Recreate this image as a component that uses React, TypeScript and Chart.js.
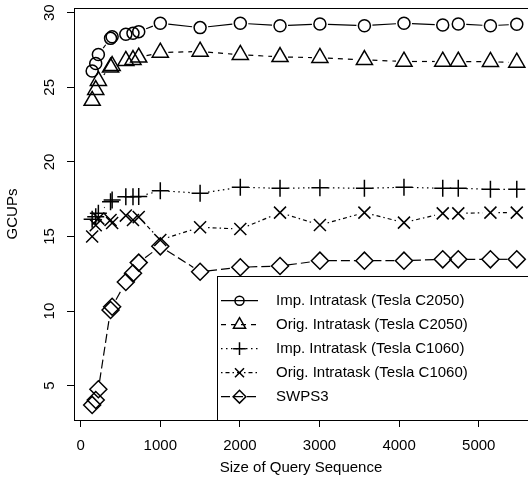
import React, { useEffect, useRef } from 'react';
import { Chart, registerables } from 'chart.js';
import { drawPoint } from 'chart.js/helpers';

Chart.register(...registerables);

// ---- data ----
const queryLengths = [144, 189, 222, 375, 395, 567, 657, 729, 1000, 1500, 2005, 2504, 3005, 3564, 4061, 4548, 4743, 5147, 5478];
const impC2050 = [26.09, 26.6, 27.2, 28.28, 28.39, 28.55, 28.62, 28.73, 29.29, 29.0, 29.29, 29.13, 29.24, 29.13, 29.29, 29.18, 29.24, 29.13, 29.22];
const origC2050 = [24.1, 24.83, 25.44, 26.33, 26.44, 26.78, 26.84, 27.0, 27.33, 27.4, 27.18, 27.04, 26.98, 26.84, 26.73, 26.73, 26.73, 26.71, 26.66];
const impC1060 = [16.15, 16.33, 16.56, 17.33, 17.45, 17.67, 17.67, 17.68, 18.07, 17.9, 18.3, 18.23, 18.27, 18.23, 18.3, 18.23, 18.23, 18.16, 18.16];
const origC1060 = [15.0, 15.75, 16.2, 16.1, 15.9, 16.4, 16.1, 16.3, 14.77, 15.62, 15.5, 16.6, 15.77, 16.6, 15.93, 16.55, 16.55, 16.6, 16.6];
const swps3 = [3.71, 4.04, 4.76, 10.07, 10.29, 11.95, 12.53, 13.25, 14.34, 12.64, 12.94, 13.02, 13.38, 13.38, 13.38, 13.47, 13.47, 13.47, 13.47];

const seriesLabels = [
  'Imp. Intratask (Tesla C2050)',
  'Orig. Intratask (Tesla C2050)',
  'Imp. Intratask (Tesla C1060)',
  'Orig. Intratask (Tesla C1060)',
  'SWPS3',
];
const xTickValues = [0, 1000, 2000, 3000, 4000, 5000];
const yTickValues = [5, 10, 15, 20, 25, 30];
const xTitle = 'Size of Query Sequence';
const yTitle = 'GCUPs';

const FONT = "'Liberation Sans', Arial, Helvetica, sans-serif";
const styles = [
  { pointStyle: 'circle', radius: 6, dash: [] as number[] },
  { pointStyle: 'triangle', radius: 9.3, dash: [5, 5] },
  { pointStyle: 'cross', radius: 8.5, dash: [1.5, 3.5] },
  { pointStyle: 'crossRot', radius: 8.5, dash: [1.5, 3, 4, 3] },
  { pointStyle: 'rectRot', radius: 8.5, dash: [9, 4] },
];
const GAP = 8;
const LINE_W = 1.2;
const PT_W = 1.5;

const rLinesPlugin = {
  id: 'rLines',
  beforeDatasetsDraw(chart: any) {
    const ctx = chart.ctx;
    chart.data.datasets.forEach((ds: any, i: number) => {
      const pts = chart.getDatasetMeta(i).data;
      ctx.save();
      ctx.strokeStyle = '#000';
      ctx.lineWidth = LINE_W;
      ctx.setLineDash(styles[i].dash);
      for (let k = 0; k < pts.length - 1; k++) {
        const a = pts[k];
        const b = pts[k + 1];
        const dx = b.x - a.x;
        const dy = b.y - a.y;
        const d = Math.hypot(dx, dy);
        if (d <= 2 * GAP) continue;
        const ux = dx / d;
        const uy = dy / d;
        ctx.beginPath();
        ctx.moveTo(a.x + ux * GAP, a.y + uy * GAP);
        ctx.lineTo(b.x - ux * GAP, b.y - uy * GAP);
        ctx.stroke();
      }
      ctx.restore();
    });
  },
  afterDraw(chart: any) {
    const ctx = chart.ctx;
    const area = chart.chartArea;
    const yScale = chart.scales.y;
    ctx.save();
    // top border of the box
    ctx.strokeStyle = '#000';
    ctx.lineWidth = 1;
    ctx.beginPath();
    ctx.moveTo(area.left, Math.round(area.top) + 0.5);
    ctx.lineTo(area.right + 5, Math.round(area.top) + 0.5);
    ctx.stroke();

    // y tick labels (rotated, R style)
    ctx.fillStyle = '#000';
    ctx.font = `15px ${FONT}`;
    ctx.textAlign = 'center';
    ctx.textBaseline = 'middle';
    yTickValues.forEach((v) => {
      const py = yScale.getPixelForValue(v);
      ctx.save();
      ctx.translate(50, py);
      ctx.rotate(-Math.PI / 2);
      ctx.fillText(String(v), 0, 0);
      ctx.restore();
    });

    // legend
    const bx = 217.5;
    const by = 276.5;
    ctx.fillStyle = '#fff';
    ctx.fillRect(bx, by, 400, area.bottom - by);
    ctx.strokeStyle = '#000';
    ctx.lineWidth = 1;
    ctx.strokeRect(bx, by, 400, Math.round(area.bottom) - by + 0.5);
    seriesLabels.forEach((lab, i) => {
      const cy = 300.7 + i * 24;
      ctx.save();
      ctx.strokeStyle = '#000';
      ctx.lineWidth = LINE_W;
      ctx.setLineDash(styles[i].dash);
      ctx.beginPath();
      ctx.moveTo(221, cy);
      ctx.lineTo(258, cy);
      ctx.stroke();
      ctx.setLineDash([]);
      ctx.lineWidth = PT_W;
      ctx.fillStyle = 'rgba(0,0,0,0)';
      drawPoint(ctx, { pointStyle: styles[i].pointStyle as any, radius: styles[i].radius * 0.75, rotation: 0, borderWidth: PT_W } as any, 239.5, cy);
      ctx.restore();
      ctx.fillStyle = '#000';
      ctx.font = `15px ${FONT}`;
      ctx.textAlign = 'left';
      ctx.textBaseline = 'middle';
      ctx.fillText(lab, 276, cy);
    });
    ctx.restore();
  },
};

export default function App() {
  const ref = useRef<HTMLCanvasElement>(null);
  useEffect(() => {
    if (!ref.current) return;
    const all = [impC2050, origC2050, impC1060, origC1060, swps3];
    const chart = new Chart(ref.current, {
      type: 'line',
      data: {
        datasets: all.map((vals, i) => ({
          label: seriesLabels[i],
          data: queryLengths.map((x, k) => ({ x, y: vals[k] })),
          showLine: false,
          pointStyle: styles[i].pointStyle as any,
          pointRadius: styles[i].radius,
          pointBorderWidth: PT_W,
          pointBorderColor: '#000',
          pointBackgroundColor: 'rgba(0,0,0,0)',
          borderColor: '#000',
          clip: false as any,
        })),
      },
      plugins: [rLinesPlugin],
      options: {
        responsive: false,
        animation: false,
        devicePixelRatio: 1,
        layout: { autoPadding: false, padding: { top: 8, left: 0, right: 0, bottom: 0 } },
        plugins: { legend: { display: false }, tooltip: { enabled: false } },
        scales: {
          x: {
            type: 'linear',
            min: -84,
            max: 5619,
            afterFit: (s: any) => { s.height = 62; s.paddingLeft = 0; s.paddingRight = 0; },
            afterBuildTicks: (s: any) => { s.ticks = xTickValues.map((v) => ({ value: v })); },
            ticks: {
              color: '#000',
              font: { family: FONT, size: 15 },
              padding: 10,
              maxRotation: 0,
              autoSkip: false,
              callback: (v: any) => String(v),
            },
            grid: { display: true, drawOnChartArea: false, drawTicks: true, tickLength: 7, color: '#000', lineWidth: 1 },
            border: { display: true, color: '#000', width: 1 },
            title: { display: true, text: xTitle, color: '#000', font: { family: FONT, size: 15 }, padding: { bottom: 5, top: 0 } },
          },
          y: {
            type: 'linear',
            min: 2.7,
            max: 30.315,
            afterFit: (s: any) => { s.width = 74; s.paddingTop = 0; s.paddingBottom = 0; },
            afterBuildTicks: (s: any) => { s.ticks = yTickValues.map((v) => ({ value: v })); },
            ticks: {
              color: 'rgba(0,0,0,0)',
              font: { family: FONT, size: 2 },
              padding: 0,
              autoSkip: false,
            },
            grid: { display: true, drawOnChartArea: false, drawTicks: true, tickLength: 7, color: '#000', lineWidth: 1 },
            border: { display: true, color: '#000', width: 1 },
            title: { display: true, text: yTitle, color: '#000', font: { family: FONT, size: 15 }, padding: { top: 4, bottom: 0 } },
          },
        },
      },
    });
    return () => chart.destroy();
  }, []);
  return (
    <div style={{ position: 'absolute', left: 0, top: 0, width: 528, height: 482, background: '#fff' }}>
      <canvas ref={ref} width={528} height={482} />
    </div>
  );
}
